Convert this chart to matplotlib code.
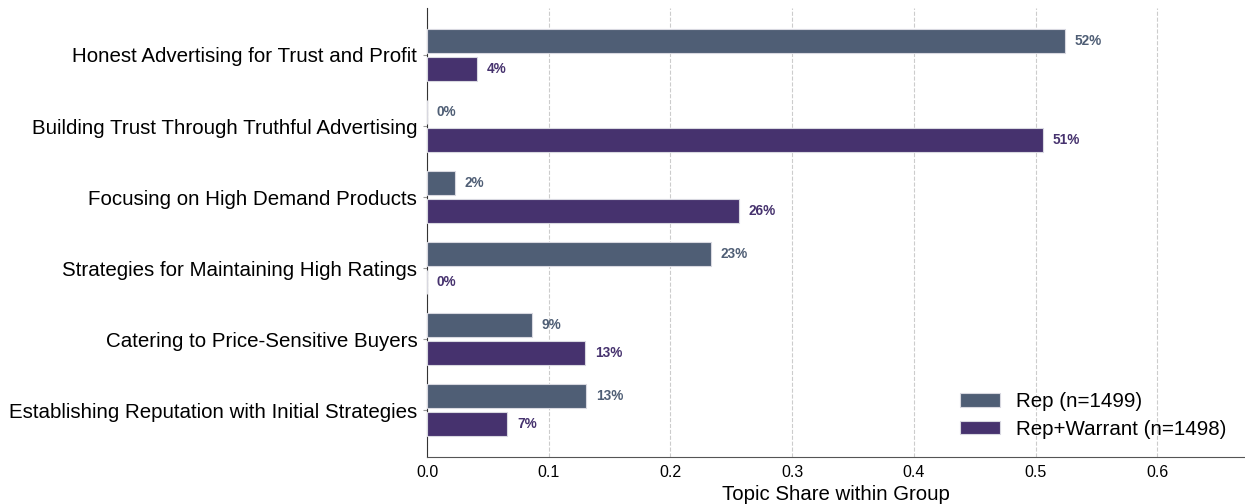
import matplotlib
matplotlib.use("Agg")
import matplotlib.pyplot as plt
import numpy as np

categories = [
    "Honest Advertising for Trust and Profit",
    "Building Trust Through Truthful Advertising",
    "Focusing on High Demand Products",
    "Strategies for Maintaining High Ratings",
    "Catering to Price-Sensitive Buyers",
    "Establishing Reputation with Initial Strategies",
]
rep = [0.524, 0.0, 0.023, 0.233, 0.086, 0.131]
warrant = [0.041, 0.506, 0.256, 0.0, 0.130, 0.066]
series_names = ["Rep (n=1499)", "Rep+Warrant (n=1498)"]
colors = ["#4f5e75", "#46326e"]

plt.rcParams['font.family'] = ['Liberation Sans', 'DejaVu Sans']

fig = plt.figure(figsize=(12.45, 5.04), dpi=100)
ax = fig.add_axes([0.343, 0.093, 0.657, 0.891])

y = np.arange(len(categories))
h = 0.34
off = 0.197
for vals, sign, col, name in [(rep, -1, colors[0], series_names[0]), (warrant, 1, colors[1], series_names[1])]:
    bars = ax.barh(y + sign * off, vals, height=h, color=col, edgecolor="#d8d8e0", linewidth=0.8, label=name, zorder=3)
    for b, v in zip(bars, vals):
        ax.text(v + 0.008, b.get_y() + b.get_height() / 2, f"{v:.0%}", va="center", ha="left",
                fontsize=9.8, fontweight="bold", color=col)

ax.set_yticks(y)
ax.set_yticklabels(categories, fontsize=14.8)
ax.set_ylim(5.66, -0.66)
ax.set_xlim(0, 0.672)
ax.set_xticks([0.0, 0.1, 0.2, 0.3, 0.4, 0.5, 0.6])
ax.set_xticklabels(["0.0", "0.1", "0.2", "0.3", "0.4", "0.5", "0.6"], fontsize=11.5)
ax.set_xlabel("Topic Share within Group", fontsize=14.7, labelpad=3)
ax.grid(axis="x", linestyle="--", color="#cccccc", linewidth=0.8, zorder=0)
ax.tick_params(axis="y", length=3, color="#999999", pad=4)
ax.tick_params(axis="x", length=0, pad=6)
for s in ["top", "right"]:
    ax.spines[s].set_visible(False)
ax.spines["left"].set_color("#333333")
ax.spines["bottom"].set_color("#555555")

ax.legend(loc="lower right", frameon=False, fontsize=14.8, handlelength=1.95, handleheight=0.63,
          handletextpad=0.8, labelspacing=0.4, bbox_to_anchor=(1.0, 0.0))

fig.savefig("out.png", dpi=100)
